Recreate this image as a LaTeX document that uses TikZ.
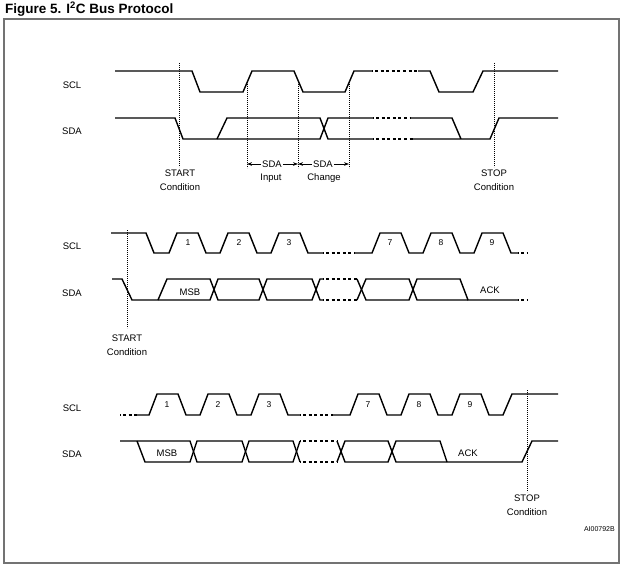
\documentclass[tikz,border=0pt]{standalone}
\usepackage{fontspec}
\setmainfont{Liberation Sans}
\usetikzlibrary{arrows.meta}

\tikzset{
  wave/.style={line width=1.4pt},
  gapwave/.style={line width=1.4pt, dash pattern=on 3pt off 2.6pt, dash phase=2.6pt},
  marker/.style={line width=0.6pt, dash pattern=on 0.8pt off 1.2pt},
  tip/.style={-{Stealth[length=5pt,width=3.6pt]}, line width=0.7pt},
  digit/.style={font=\fontsize{8.5}{10}\selectfont},
  cond/.style={font=\fontsize{9.5}{13.5}\selectfont, align=center},
}

\begin{document}
\begin{tikzpicture}[x=1pt,y=-1pt,every node/.style={font=\fontsize{9.5}{12}\selectfont, inner sep=1pt}]
\useasboundingbox (0,0) rectangle (624,567);
% frame and title
\draw[line width=1.4pt, black!55] (4,19) rectangle (619,563);
\node[anchor=base west, font=\fontsize{13.5}{16}\selectfont\bfseries] (title) at (4,13.5) {Figure 5. I\textsuperscript{2}C Bus Protocol};
\node[anchor=base east, font=\fontsize{7}{8}\selectfont] (figid) at (616,531) {AI00792B};

% first panel: start, data change, stop
\node (scla) at (72,85) {SCL};
\node (sdaa) at (72,131) {SDA};
\draw[wave] (115,71) -- (192,71) -- (200,92) -- (243,92) -- (252,71) -- (294,71) -- (303,92) -- (345,92) -- (354,71) -- (372,71);
\draw[gapwave] (372,71) -- (418,71);
\draw[wave] (418,71) -- (430,71) -- (439,92) -- (473,92) -- (483,71) -- (558,71);
\draw[wave] (115,118) -- (175,118) -- (183,139) -- (320,139) -- (328,118) -- (373,118);
\draw[wave] (217,139) -- (227,118) -- (320,118) -- (328,139) -- (373,139);
\draw[gapwave] (373,118) -- (410,118) (373,139) -- (413,139);
\draw[wave] (410,118) -- (452,118) -- (461,139) (413,139) -- (490,139) -- (499,118) -- (558,118);
\draw[marker] (179,63) -- (179,167);
\draw[marker] (494,63) -- (494,167);
\draw[marker] (247,82) -- (247,168) (298,82) -- (298,168) (349,82) -- (349,168);
\coordinate (ma) at (247,164);
\coordinate (mb) at (298,164);
\coordinate (mc) at (349,164);
\node (ina) at (272,164) {SDA};
\node (inb) at (271,178) {Input};
\node (cha) at (323,164) {SDA};
\node (chb) at (324,178) {Change};
\draw[tip] (ina) -- (ma);
\draw[tip] (ina) -- (mb);
\draw[tip] (cha) -- (mb);
\draw[tip] (cha) -- (mc);
\node[cond] (starta) at (180,180) {START\\Condition};
\node[cond] (stopa) at (494,180) {STOP\\Condition};

% second panel: start and first byte
\node (sclb) at (72,246) {SCL};
\node (sdab) at (72,293) {SDA};
\draw[wave] (111,233) -- (146,233) -- (154,253) -- (169,253) -- (177,233) -- (198,233) -- (206,253) -- (220,253) -- (228,233) -- (249,233) -- (257,253) -- (271,253) -- (279,233) -- (300,233) -- (308,253) -- (323,253);
\draw[gapwave] (323,253) -- (355,253);
\draw[wave] (355,253) -- (372,253) -- (380,233) -- (401,233) -- (409,253) -- (423,253) -- (431,233) -- (452,233) -- (460,253) -- (474,253) -- (482,233) -- (503,233) -- (511,253) -- (518,253);
\draw[gapwave] (518,253) -- (528,253);
\draw[wave] (112,279) -- (122,279) -- (132,300) -- (210,300) -- (218,279) -- (259,279) -- (267,300) -- (312,300) -- (320,279) -- (323,279);
\draw[wave] (158,300) -- (167,279) -- (210,279) -- (218,300) -- (259,300) -- (267,279) -- (312,279) -- (320,300) -- (323,300);
\draw[gapwave] (323,279) -- (357,279) (323,300) -- (357,300);
\draw[wave] (357,279) -- (366,300) -- (409,300) -- (417,279) -- (460,279) -- (468,300) -- (518,300);
\draw[wave] (357,300) -- (366,279) -- (409,279) -- (417,300) -- (468,300);
\draw[gapwave] (518,300) -- (528,300);
\draw[marker] (127,230) -- (127,328);
\node[digit] (b1) at (188,243) {1};
\node[digit] (b2) at (239,243) {2};
\node[digit] (b3) at (289,243) {3};
\node[digit] (b7) at (390,243) {7};
\node[digit] (b8) at (441,243) {8};
\node[digit] (b9) at (492,243) {9};
\node (msbb) at (190,292) {MSB};
\node (ackb) at (490,290) {ACK};
\node[cond] (startb) at (127,345) {START\\Condition};

% third panel: last byte and stop
\node (sclc) at (72,408) {SCL};
\node (sdac) at (72,454) {SDA};
\draw[gapwave] (120,415) -- (137,415);
\draw[wave] (137,415) -- (149,415) -- (157,394) -- (178,394) -- (186,415) -- (200,415) -- (208,394) -- (229,394) -- (237,415) -- (251,415) -- (259,394) -- (280,394) -- (288,415) -- (300,415);
\draw[gapwave] (300,415) -- (333,415);
\draw[wave] (333,415) -- (350,415) -- (358,394) -- (379,394) -- (387,415) -- (401,415) -- (409,394) -- (430,394) -- (438,415) -- (452,415) -- (460,394) -- (481,394) -- (489,415) -- (503,415) -- (512,394) -- (558,394);
\draw[wave] (120,441) -- (190,441) -- (197,462) -- (242,462) -- (249,441) -- (293,441) -- (300,462);
\draw[wave] (137,441) -- (145,462) -- (190,462) -- (197,441) -- (242,441) -- (249,462) -- (293,462) -- (300,441);
\draw[gapwave] (300,441) -- (337,441) (300,462) -- (337,462);
\draw[wave] (337,462) -- (345,441) -- (388,441) -- (396,462) -- (522,462) -- (532,441) -- (558,441);
\draw[wave] (337,441) -- (345,462) -- (388,462) -- (396,441) -- (440,441) -- (447,462);
\draw[marker] (527,390) -- (527,492);
\node[digit] (c1) at (167,405) {1};
\node[digit] (c2) at (218,405) {2};
\node[digit] (c3) at (269,405) {3};
\node[digit] (c7) at (368,405) {7};
\node[digit] (c8) at (419,405) {8};
\node[digit] (c9) at (470,405) {9};
\node (msbc) at (167,453) {MSB};
\node (ackc) at (468,453) {ACK};
\node[cond] (stopc) at (527,505) {STOP\\Condition};
\end{tikzpicture}
\end{document}
